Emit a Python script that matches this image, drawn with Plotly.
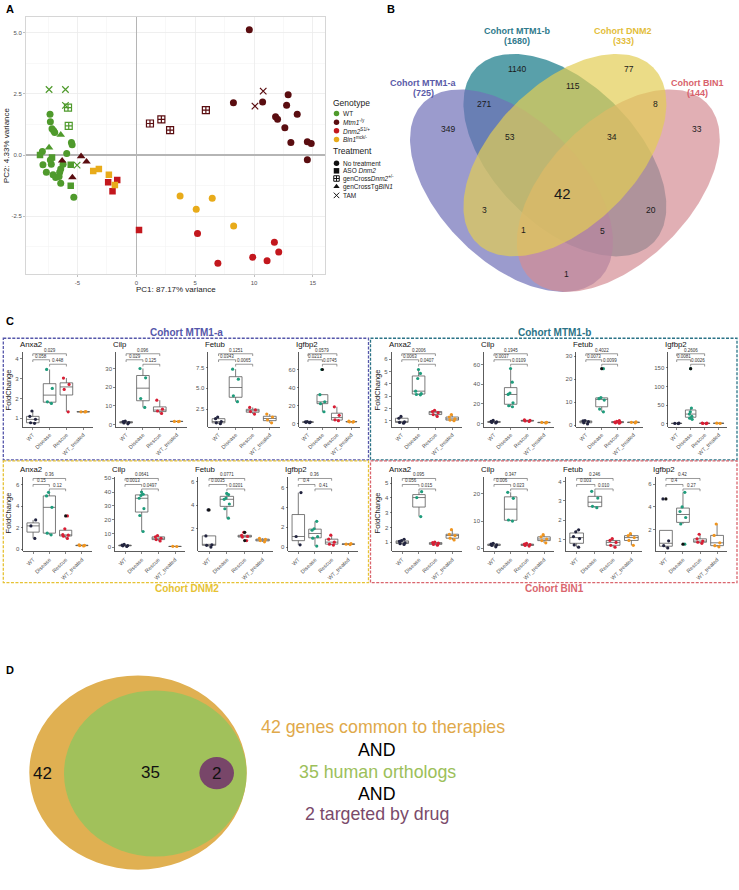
import numpy as np
import plotly.graph_objects as go

W, H = 739, 890
FONT = "Liberation Sans, Arial, Helvetica, sans-serif"

# ======================= Panel A : PCA =======================
PCA_GROUPS = [
    ("WT", "No treatment"), ("WT", "ASO Dnm2"), ("WT", "genCrossDnm2"),
    ("WT", "genCrossTgBIN1"), ("WT", "TAM"),
    ("Mtm1", "No treatment"), ("Mtm1", "genCrossDnm2"), ("Mtm1", "genCrossTgBIN1"), ("Mtm1", "TAM"),
    ("Dnm2", "ASO Dnm2"), ("Dnm2", "No treatment"),
    ("Bin1", "ASO Dnm2"), ("Bin1", "No treatment"),
]
PCA_X = [
    [-7.33, -7.30, -7.16, -7.02, -6.93, -5.51, -5.45, -5.91, -7.98, -7.93, -7.64,
     -7.22, -7.30, -7.07, -6.85, -6.42, -6.51, -6.56, -6.42, -5.31, -6.22],
    [-8.18, -7.16, -5.57, -5.57],
    [-5.80, -5.74],
    [-7.41, -6.42],
    [-7.41, -6.02, -6.02, -5.03],
    [9.60, 8.25, 10.73, 12.90, 12.77, 13.67, 11.83, 12.00, 12.62, 13.13, 14.53, 14.86, 14.53],
    [1.16, 2.13, 2.87, 5.91],
    [-4.69, -4.23, -5.43, -6.30],
    [10.78, 10.08],
    [-2.39, -1.62, -2.02, 0.23],
    [5.20, 6.93, 9.89, 11.11, 11.73, 12.10],
    [-3.66, -3.18, -2.33, -1.82],
    [3.72, 5.09, 6.45, 8.27],
]
PCA_Y = [
    [1.67, 1.36, 1.08, 0.99, 0.92, 0.51, 0.42, 0.07, 0.15, -0.39, -0.70,
     -0.37, -0.20, -0.80, -0.91, -0.57, -0.70, -0.87, -1.15, -1.72, -0.37],
    [0.00, -0.10, -0.39, -1.25],
    [1.94, 1.19],
    [0.31, 0.83],
    [2.68, 2.68, 2.03, -0.41],
    [5.12, 2.14, 2.17, 2.46, 2.04, 1.67, 1.57, 1.46, 1.12, 0.51, 0.54, 0.47, -0.19],
    [1.29, 1.46, 1.02, 1.84],
    [-0.05, -0.27, -0.91, -0.23],
    [2.61, 2.00],
    [-1.11, -1.02, -1.48, -3.06],
    [-3.20, -4.42, -4.17, -4.31, -3.56, -3.96],
    [-0.65, -0.57, -0.80, -1.22],
    [-1.67, -2.21, -1.76, -2.89],
]
PCA_XTICKS = [-5, 0, 5, 10, 15]
PCA_XTICKTEXT = ["-5", "0", "5", "10", "15"]
PCA_YTICKS = [-2.5, 0.0, 2.5, 5.0]
PCA_YTICKTEXT = ["-2.5", "0.0", "2.5", "5.0"]
PC1_TITLE = "PC1: 87.17% variance"
PC2_TITLE = "PC2: 4.33% variance"
GENOTYPES = ["WT", "Mtm1", "Dnm2", "Bin1"]
GENOTYPE_LABELS = ["WT", "<i>Mtm1</i><sup>-/y</sup>", "<i>Dnm2</i><sup>S1/+</sup>", "<i>Bin1</i><sup>mck/-</sup>"]
TREATMENTS = ["No treatment", "ASO Dnm2", "genCrossDnm2", "genCrossTgBIN1", "TAM"]
TREATMENT_LABELS = ["No treatment", "ASO <i>Dnm2</i>", "genCross<i>Dnm2</i><sup>+/-</sup>",
                    "genCrossTg<i>BIN1</i>", "TAM"]

# ======================= Panel B : 4-set Venn =======================
VENN_SETS = ["Cohort MTM1-a", "Cohort MTM1-b", "Cohort DNM2", "Cohort BIN1"]
VENN_TOTALS = [725, 1680, 333, 144]
VENN_REGIONS = ["A", "B", "C", "D", "AB", "BC", "CD", "ABC", "BCD", "ABCD", "AC", "BD", "ACD", "ABD", "AD"]
VENN_COUNTS = [349, 1140, 77, 33, 271, 115, 8, 53, 34, 42, 3, 20, 1, 5, 1]

# ======================= Panel C : boxplots =======================
COHORTS = ["MTM1-a", "MTM1-b", "DNM2", "BIN1"]
GENES = ["Anxa2", "Cilp", "Fetub", "Igfbp2"]
GROUPS = ["WT", "Disease", "Rescue", "WT_treated"]

MTM1A_ANXA2 = [[0.75, 0.78, 0.95, 1.10, 1.37], [1.75, 1.83, 2.50, 3.45], [1.33, 2.45, 2.70, 3.02], [1.32, 1.33, 1.34]]
MTM1A_CILP = [[0.3, 0.8, 1.0, 1.5, 1.8], [9.1, 13.9, 25.0, 30.0], [5.9, 7.2, 8.2, 13.0], [1.5, 1.6, 1.7]]
MTM1A_FETUB = [[0.75, 0.85, 1.0, 1.35, 1.55], [3.4, 4.1, 6.1, 7.3], [1.9, 2.2, 2.4, 2.7], [0.85, 1.2, 1.55, 1.9]]
MTM1A_IGFBP2 = [[0.8, 1.2, 1.5, 1.8, 2.0], [13, 22, 24, 32, 60], [3.0, 4.0, 9.0, 18.5], [1.5, 1.8, 2.0, 2.5]]

MTM1B_ANXA2 = [[0.80, 0.86, 0.90, 1.20, 1.35], [3.10, 3.13, 3.20, 3.40, 4.43, 4.84, 5.16],
               [1.35, 1.50, 1.65, 1.75, 1.85], [1.00, 1.05, 1.15, 1.30, 1.50]]
MTM1B_CILP = [[0.5, 1.0, 1.5, 2.0, 3.0], [17, 18, 21, 29.5, 31, 42, 56], [2.0, 2.5, 3.0, 3.5], [0.5, 1.0, 1.2]]
MTM1B_FETUB = [[0.5, 1.0, 1.5, 1.8, 2.0], [5.8, 7.0, 10.9, 11.5, 12.0, 24.6], [0.8, 1.0, 1.2, 1.3, 1.6, 2.0], [1.0, 1.2, 1.4]]
MTM1B_IGFBP2 = [[0.5, 1.0, 1.5], [12, 15, 20, 26, 32, 42, 148], [0.5, 1.0, 1.5, 2.0], [1.0, 1.5]]

DNM2_ANXA2 = [[1.0, 2.17, 2.73], [1.33, 1.49, 3.9, 4.97, 5.3], [1.0, 1.2, 1.3, 1.35, 1.9, 3.1], [0.30, 0.33, 0.35, 0.40]]
DNM2_CILP = [[0.5, 1.0, 1.2, 1.5, 2.0], [11.4, 23.0, 28.0, 35.5, 37.5, 38.4, 40.0], [4.5, 5.5, 6.5, 7.5, 8.5], [0.5, 0.6]]
DNM2_FETUB = [[0.45, 0.6, 0.65, 1.4, 3.6], [2.9, 3.7, 4.1, 4.5, 4.6, 4.9, 5.0], [1.0, 1.3, 1.35, 1.45, 1.7], [0.9, 1.0, 1.1, 1.2]]
DNM2_IGFBP2 = [[0.23, 1.07, 5.5], [0.1, 0.9, 1.05, 1.7, 1.85, 2.6], [0.2, 0.3, 0.5, 0.8, 1.2], [0.25, 0.3, 0.35]]

BIN1_ANXA2 = [[0.85, 0.90, 0.95, 1.05, 1.10, 1.20], [2.74, 4.03, 4.43], [0.80, 0.85, 0.93, 0.97, 1.00], [1.15, 1.27, 1.45, 1.54, 1.85]]
BIN1_CILP = [[0.5, 1.0, 1.2, 1.5, 1.8], [10.0, 10.4, 18.4, 20.6], [0.8, 1.0, 1.3, 1.5, 1.8], [2.0, 2.8, 3.4, 4.2, 5.0]]
BIN1_FETUB = [[0.6, 0.72, 1.05, 1.15, 1.4, 1.5], [2.65, 2.72, 3.15, 3.5], [0.6, 0.7, 0.85, 0.95, 1.05], [0.7, 0.95, 1.1, 1.2, 1.3]]
BIN1_IGFBP2 = [[0.4, 0.6, 1.02, 4.7], [0.73, 2.5, 3.07, 3.6, 4.0, 5.28], [0.8, 0.9, 1.0, 1.2, 1.6], [0.5, 0.6, 0.85, 1.5, 2.5]]

# p-values: [WT vs Rescue (top), WT vs Disease, Disease vs Rescue]
PVAL_MTM1A = [["0.029", "0.058", "0.448"], ["0.096", "0.029", "0.125"], ["0.1251", "0.0343", "0.0065"], ["0.0579", "0.0213", "0.0745"]]
PVAL_MTM1B = [["0.2006", "0.0063", "0.0407"], ["0.1945", "0.0037", "0.0109"], ["0.4022", "0.0073", "0.0099"], ["0.2606", "0.0081", "0.0026"]]
PVAL_DNM2 = [["0.36", "0.15", "0.12"], ["0.0641", "0.0013", "0.0497"], ["0.0771", "0.0035", "0.0201"], ["0.36", "0.4", "0.41"]]
PVAL_BIN1 = [["0.095", "0.056", "0.015"], ["0.347", "0.006", "0.023"], ["0.246", "0.003", "0.010"], ["0.42", "0.4", "0.27"]]

YTICKS_MTM1A = [[1, 2, 3, 4], [0, 10, 20, 30], [2.5, 5.0, 7.5], [0, 20, 40, 60]]
YTICKS_MTM1B = [[1, 2, 3, 4, 5, 6], [0, 20, 40, 60], [0, 10, 20, 30], [0, 50, 100, 150]]
YTICKS_DNM2 = [[0, 2, 4, 6], [0, 10, 20, 30, 40, 50], [2, 4, 6], [0, 2, 4, 6]]
YTICKS_BIN1 = [[1, 2, 3, 4, 5], [0, 10, 20], [1, 2, 3, 4], [2, 4, 6]]

# ======================= Panel D =======================
D_COUNTS = [42, 35, 2]
D_PHRASES = ["genes common to therapies", "human orthologs", "targeted by drug"]

# ---------------------------------------------------------------------------
FOLD = {
    "MTM1-a": [MTM1A_ANXA2, MTM1A_CILP, MTM1A_FETUB, MTM1A_IGFBP2],
    "MTM1-b": [MTM1B_ANXA2, MTM1B_CILP, MTM1B_FETUB, MTM1B_IGFBP2],
    "DNM2": [DNM2_ANXA2, DNM2_CILP, DNM2_FETUB, DNM2_IGFBP2],
    "BIN1": [BIN1_ANXA2, BIN1_CILP, BIN1_FETUB, BIN1_IGFBP2],
}
PVALS = {"MTM1-a": PVAL_MTM1A, "MTM1-b": PVAL_MTM1B, "DNM2": PVAL_DNM2, "BIN1": PVAL_BIN1}
YTICKS = {"MTM1-a": YTICKS_MTM1A, "MTM1-b": YTICKS_MTM1B, "DNM2": YTICKS_DNM2, "BIN1": YTICKS_BIN1}

# -------- layout / style (pixel geometry) --------
GENO_COLOR = {"WT": "#4f9a2c", "Mtm1": "#5a0d10", "Dnm2": "#c3171d", "Bin1": "#e8ab1a"}
TREAT_SYMBOL = {"No treatment": "circle", "ASO Dnm2": "square", "genCrossDnm2": "square-cross-open",
                "genCrossTgBIN1": "triangle-up", "TAM": "x-thin-open"}
TREAT_SIZE = {"No treatment": 7, "ASO Dnm2": 6.5, "genCrossDnm2": 7, "genCrossTgBIN1": 7.5, "TAM": 6.5}
GROUP_COLOR = ["#22243f", "#1f9c7c", "#d81e34", "#f0951f"]
COHORT_COLOR = {"MTM1-a": "#5557aa", "MTM1-b": "#2b7387", "DNM2": "#e6c233", "BIN1": "#da666e"}

SUB_X = {
    "MTM1-a": [(22.7, 93.3), (116, 186.7), (208.3, 280), (299.3, 360)],
    "MTM1-b": [(391.7, 462.3), (484, 554), (576.3, 643), (668.3, 727)],
    "DNM2": [(23.3, 91.7), (115, 185), (198.3, 273.3), (288.3, 358.3)],
    "BIN1": [(392.3, 462.3), (484, 554), (565.7, 642.3), (655.7, 727.3)],
}
SUB_Y = {"MTM1-a": (351.7, 426.7), "MTM1-b": (351.7, 426.7), "DNM2": (476.7, 551.7), "BIN1": (476.7, 551.7)}
YRANGE = {
    "MTM1-a": [(0.58, 4.33), (-1.25, 38.9), (0.38, 9.38), (-3.7, 79.6)],
    "MTM1-b": [(0.51, 6.59), (-3.4, 72.9), (-0.72, 31.9), (-8.0, 192.9)],
    "DNM2": [(-0.22, 6.77), (-3.1, 51.2), (0.08, 6.42), (-0.44, 7.11)],
    "BIN1": [(0.37, 5.45), (-1.2, 26.4), (0.38, 4.26), (0.09, 6.66)],
}

fig = go.Figure()
annotations = []
shapes = []


def ann(x, y, text, size, color="#000000", xanchor="center", yanchor="middle", angle=0,
        xref="x2", yref="y2", bold=False):
    annotations.append(dict(
        x=x, y=y, xref=xref, yref=yref, text=("<b>%s</b>" % text) if bold else text,
        showarrow=False, xanchor=xanchor, yanchor=yanchor, textangle=angle,
        font=dict(family=FONT, size=size, color=color), borderpad=0))


def fmt(v):
    return ("%.1f" % v) if (v != int(v)) else str(int(v))


# ---------------- Panel A traces ----------------
for (geno, treat), xs, ys in zip(PCA_GROUPS, PCA_X, PCA_Y):
    col = GENO_COLOR[geno]
    sym = TREAT_SYMBOL[treat]
    mk = dict(symbol=sym, size=TREAT_SIZE[treat], color=col)
    if sym.endswith("open"):
        mk["line"] = dict(color=col, width=1.2)
    fig.add_trace(go.Scatter(x=xs, y=ys, mode="markers", marker=mk, xaxis="x", yaxis="y",
                             showlegend=False, hoverinfo="skip"))

ann(175.5, 289.5, PC1_TITLE, 8, "#222")
ann(6.5, 145, PC2_TITLE, 8, "#222", angle=-90)

# manual legend (canvas px)
LEG_X = 332
ann(LEG_X, 102.7, "Genotype", 8.5, "#222", xanchor="left")
geno_y = [112.7, 121.5, 130.0, 138.7]
fig.add_trace(go.Scatter(x=[LEG_X + 4.5] * 4, y=geno_y, mode="markers", xaxis="x2", yaxis="y2",
                         marker=dict(symbol="circle", size=5.5, color=[GENO_COLOR[g] for g in GENOTYPES]),
                         showlegend=False, hoverinfo="skip"))
for yy, lab in zip(geno_y, GENOTYPE_LABELS):
    ann(LEG_X + 9.5, yy, lab, 6.5, "#222", xanchor="left")
ann(LEG_X, 150.7, "Treatment", 8.5, "#222", xanchor="left")
treat_y = [162.7, 170.2, 177.9, 186.0, 194.8]
for yy, t, lab in zip(treat_y, TREATMENTS, TREATMENT_LABELS):
    sym = TREAT_SYMBOL[t]
    mk = dict(symbol=sym, size=5.5, color="#111")
    if sym.endswith("open"):
        mk["line"] = dict(color="#111", width=1)
    fig.add_trace(go.Scatter(x=[LEG_X + 4.5], y=[yy], mode="markers", xaxis="x2", yaxis="y2",
                             marker=mk, showlegend=False, hoverinfo="skip"))
    ann(LEG_X + 9.5, yy, lab, 6.5, "#222", xanchor="left")


# ---------------- Panel B : Venn ----------------
def ellipse_xy(cx, cy, a, b, ang):
    t = np.linspace(0, 2 * np.pi, 241)
    ca, sa = np.cos(np.radians(ang)), np.sin(np.radians(ang))
    x = cx + a * np.cos(t) * ca - b * np.sin(t) * sa
    y = cy + a * np.cos(t) * sa + b * np.sin(t) * ca
    return x, y


VB_X0, VB_Y0, VB_S = 386.9, 357.4, 356.0
VENN_GEOM = {"A": (0.35, 0.47, 45), "B": (0.50, 0.57, 45), "C": (0.50, 0.57, -45), "D": (0.65, 0.47, -45)}
VENN_FILL = {"A": "rgba(112,112,184,0.7)", "B": "rgba(19,119,134,0.7)",
             "C": "rgba(226,205,84,0.7)", "D": "rgba(212,141,148,0.7)"}
for key in ["B", "A", "D", "C"]:
    u, v, ang = VENN_GEOM[key]
    ex, ey = ellipse_xy(VB_X0 + VB_S * u, VB_Y0 - VB_S * v, 0.35 * VB_S, 0.2 * VB_S, ang)
    fig.add_trace(go.Scatter(x=ex, y=ey, mode="lines", fill="toself", fillcolor=VENN_FILL[key],
                             line=dict(width=0), xaxis="x2", yaxis="y2", showlegend=False, hoverinfo="skip"))

REGION_POS = {"A": (448.3, 128.3), "B": (517, 68.3), "C": (628.7, 67.7), "D": (696.7, 128.3),
              "AB": (483.7, 103.7), "BC": (572.7, 85), "CD": (655.3, 103.7), "ABC": (510.3, 136),
              "BCD": (612, 136), "ABCD": (562.7, 192.7), "AC": (484.3, 209.3), "BD": (651, 209.3),
              "ACD": (523.3, 230), "ABD": (602.3, 231), "AD": (566.7, 274)}
for reg, cnt in zip(VENN_REGIONS, VENN_COUNTS):
    x, y = REGION_POS[reg]
    ann(x, y, str(cnt), 15 if reg == "ABCD" else 8.5, "#1a1a1a")

SET_LABEL_POS = [(423, 87.3), (516.7, 35.2), (623.3, 35.2), (697.7, 87.3)]
SET_LABEL_COL = ["#5a5aa8", "#2f7a8c", "#e3bd3a", "#d8626c"]
for name, tot, (x, y), col in zip(VENN_SETS, VENN_TOTALS, SET_LABEL_POS, SET_LABEL_COL):
    ann(x, y - 4.8, name, 9, col, bold=True)
    ann(x, y + 4.8, "(%d)" % tot, 9, col, bold=True)

# ---------------- Panel C : boxplots ----------------
layout_axes = {}
BRACKET_LEVELS = [0.975, 0.895, 0.835]
BRACKET_PAIRS = [(0, 2), (0, 1), (1, 2)]
idx = 3
for cohort in COHORTS:
    y0p, y1p = SUB_Y[cohort]
    for gi, gene in enumerate(GENES):
        xa, ya = "x%d" % idx, "y%d" % idx
        x0p, x1p = SUB_X[cohort][gi]
        lo_r, hi_r = YRANGE[cohort][gi]
        groups = FOLD[cohort][gi]
        for k, vals in enumerate(groups):
            v = np.array(vals, dtype=float)
            q1, med, q3 = np.percentile(v, [25, 50, 75])
            iqr = q3 - q1
            lf = v[v >= q1 - 1.5 * iqr].min()
            uf = v[v <= q3 + 1.5 * iqr].max()
            fig.add_trace(go.Box(x=[k], q1=[q1], median=[med], q3=[q3], lowerfence=[lf], upperfence=[uf],
                                 orientation="v", width=0.75, boxpoints=False, whiskerwidth=0,
                                 line=dict(color="#5a5a5a", width=0.8), fillcolor="white",
                                 xaxis=xa, yaxis=ya, showlegend=False, hoverinfo="skip"))
            out = v[(v < lf) | (v > uf)]
            if len(out):
                fig.add_trace(go.Scatter(x=[k] * len(out), y=out, mode="markers",
                                         marker=dict(color="#111", size=3.2), xaxis=xa, yaxis=ya,
                                         showlegend=False, hoverinfo="skip"))
            fig.add_trace(go.Box(y=v, x0=k, width=0.75, boxpoints="all", jitter=0.55, pointpos=0,
                                 whiskerwidth=0, line=dict(color="rgba(0,0,0,0)", width=0),
                                 fillcolor="rgba(0,0,0,0)", marker=dict(color=GROUP_COLOR[k], size=3.2),
                                 xaxis=xa, yaxis=ya, showlegend=False, hoverinfo="skip"))
        # brackets
        span = hi_r - lo_r
        for (a, b), lev, p in zip(BRACKET_PAIRS, BRACKET_LEVELS, PVALS[cohort][gi]):
            yt = lo_r + lev * span
            yb = yt - 0.03 * span
            shapes.append(dict(type="path", xref=xa, yref=ya,
                               path="M %g,%g L %g,%g L %g,%g L %g,%g" % (a, yb, a, yt, b, yt, b, yb),
                               line=dict(color="#555", width=0.6)))
            ann((a + b) / 2, yt, p, 4.5, "#333", yanchor="bottom", xref=xa, yref=ya)
        ticks = YTICKS[cohort][gi]
        layout_axes["xaxis%d" % idx] = dict(
            domain=[x0p / W, x1p / W], range=[-0.6, 3.6], anchor=ya, tickmode="array",
            tickvals=[0, 1, 2, 3], ticktext=GROUPS, tickangle=-45, showline=True, linecolor="#333",
            linewidth=0.8, ticks="outside", ticklen=2, tickwidth=0.6, tickcolor="#333",
            tickfont=dict(family=FONT, size=5.5, color="#555"), showgrid=False, zeroline=False)
        layout_axes["yaxis%d" % idx] = dict(
            domain=[1 - y1p / H, 1 - y0p / H], range=[lo_r, hi_r], anchor=xa, tickmode="array",
            tickvals=ticks,
            ticktext=[("%.1f" % t) if (gene == "Fetub" and cohort == "MTM1-a") else fmt(t) for t in ticks],
            showline=True, linecolor="#333", linewidth=0.8, ticks="outside", ticklen=2, tickwidth=0.6,
            tickcolor="#333", tickfont=dict(family=FONT, size=6, color="#555"), showgrid=False, zeroline=False)
        ann(x0p - 4, y0p - 7.5, gene, 7.8, "#111", xanchor="left")
        idx += 1

# cohort frames and titles
FRAMES = {"MTM1-a": (3.3, 338, 368.5, 460), "MTM1-b": (370.5, 338, 737, 460),
          "DNM2": (3.3, 461, 368.5, 583), "BIN1": (370.5, 461, 737, 583)}
TITLE_POS = {"MTM1-a": (186.7, 332.5), "MTM1-b": (554, 332.5), "DNM2": (186.7, 589), "BIN1": (554, 589)}
FOLD_POS = {"MTM1-a": (8.3, 390), "MTM1-b": (377.3, 390), "DNM2": (8.3, 513.3), "BIN1": (377.3, 513.3)}
for cohort in COHORTS:
    fx0, fy0, fx1, fy1 = FRAMES[cohort]
    shapes.append(dict(type="rect", xref="x2", yref="y2", x0=fx0, x1=fx1, y0=fy0, y1=fy1,
                       line=dict(color=COHORT_COLOR[cohort], width=1.3, dash="3px,1.5px"),
                       fillcolor="rgba(0,0,0,0)"))
    tx, ty = TITLE_POS[cohort]
    ann(tx, ty, "Cohort " + cohort, 10, COHORT_COLOR[cohort], bold=True)
    fx, fy = FOLD_POS[cohort]
    ann(fx, fy, "FoldChange", 7.5, "#222", angle=-90)

# ---------------- Panel D ----------------
D_ELL = [((138.0, 773.3), 108.7, 97.3, "#e0b052"), ((155.3, 774.2), 91.3, 83.2, "#a1c15b"),
         ((216.7, 773.8), 17.3, 16.2, "#784669")]
for (cx, cy), rx, ry, col in D_ELL:
    shapes.append(dict(type="circle", xref="x2", yref="y2", x0=cx - rx, x1=cx + rx, y0=cy - ry, y1=cy + ry,
                       fillcolor=col, line=dict(width=0), layer="above"))
D_NUM_POS = [(42.7, 774), (150.7, 773.3), (216.7, 774)]
for (x, y), n in zip(D_NUM_POS, D_COUNTS):
    ann(x, y, str(n), 17, "#111")
D_TXT_COL = ["#e0a94a", "#9cc05a", "#7a4a6a"]
ann(383, 728.0, "%d %s" % (D_COUNTS[0], D_PHRASES[0]), 17.8, D_TXT_COL[0])
ann(377, 750.5, "AND", 17.8, "#000")
ann(377, 772.3, "%d %s" % (D_COUNTS[1], D_PHRASES[1]), 17.8, D_TXT_COL[1])
ann(377, 794.8, "AND", 17.8, "#000")
ann(377, 815.2, "%d %s" % (D_COUNTS[2], D_PHRASES[2]), 17.8, D_TXT_COL[2])

# panel letters
for lab, (x, y) in zip("ABCD", [(5, 8.5), (386, 8.5), (5, 320.7), (5, 670.7)]):
    ann(x, y, lab, 11, "#000", xanchor="left", bold=True)

# ---------------- layout ----------------
fig.update_layout(
    width=W, height=H, margin=dict(l=0, r=0, t=0, b=0), autosize=False,
    paper_bgcolor="white", plot_bgcolor="rgba(0,0,0,0)", boxmode="overlay",
    font=dict(family=FONT), showlegend=False, hovermode=False,
    xaxis=dict(domain=[26 / W, 325 / W], range=[-9.37, 16.03], anchor="y", tickmode="array",
               tickvals=PCA_XTICKS, ticktext=PCA_XTICKTEXT, showgrid=True, gridcolor="#ebebeb", gridwidth=0.8,
               minor=dict(tickmode="array", tickvals=[-7.5, -2.5, 2.5, 7.5, 12.5], showgrid=True,
                          gridcolor="#f3f3f3", gridwidth=0.6),
               zeroline=True, zerolinecolor="#b5b5b5", zerolinewidth=1.3, showline=True, mirror=True,
               linecolor="#d6d6d6", linewidth=1, ticks="outside", ticklen=2, tickwidth=0.8,
               tickcolor="#b0b0b0", tickfont=dict(family=FONT, size=6, color="#555")),
    yaxis=dict(domain=[1 - 274 / H, 1 - 16 / H], range=[-4.87, 5.64], anchor="x", tickmode="array",
               tickvals=PCA_YTICKS, ticktext=PCA_YTICKTEXT, showgrid=True, gridcolor="#ebebeb", gridwidth=0.8,
               minor=dict(tickmode="array", tickvals=[-3.75, -1.25, 1.25, 3.75], showgrid=True,
                          gridcolor="#f3f3f3", gridwidth=0.6),
               zeroline=True, zerolinecolor="#b5b5b5", zerolinewidth=1.3, showline=True, mirror=True,
               linecolor="#d6d6d6", linewidth=1, ticks="outside", ticklen=2, tickwidth=0.8,
               tickcolor="#b0b0b0", tickfont=dict(family=FONT, size=6, color="#555")),
    xaxis2=dict(domain=[0, 1], range=[0, W], anchor="y2", visible=False, fixedrange=True),
    yaxis2=dict(domain=[0, 1], range=[H, 0], anchor="x2", visible=False, fixedrange=True),
    annotations=annotations, shapes=shapes,
)
fig.update_layout(**layout_axes)
fig.write_html("out.html", config={"displayModeBar": False, "staticPlot": True},
               post_script="document.body.style.margin='0px';document.body.style.padding='0px';"
                           "document.body.style.overflow='hidden';")
